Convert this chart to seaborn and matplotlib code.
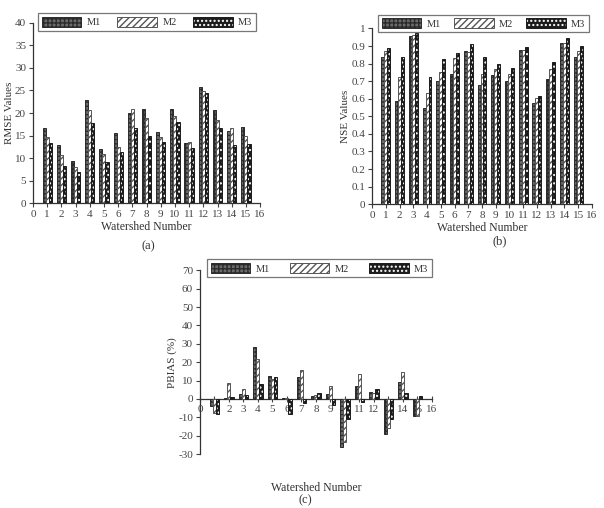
import numpy as np
import pandas as pd
import seaborn as sns
import matplotlib.pyplot as plt
from matplotlib.patches import Patch

watershed = list(range(1, 16))
models = ["M1", "M2", "M3"]

rmse_m1 = [16.6, 13.0, 9.3, 22.8, 12.0, 15.6, 20.0, 21.0, 15.8, 21.0, 13.4, 25.7, 20.6, 16.1, 16.9]
rmse_m2 = [14.7, 10.6, 8.1, 20.7, 10.9, 12.5, 21.0, 18.9, 14.7, 19.4, 13.5, 24.8, 18.4, 16.7, 15.0]
rmse_m3 = [13.3, 8.2, 7.0, 17.7, 9.1, 11.3, 16.7, 15.0, 13.6, 17.9, 12.3, 24.4, 16.7, 13.0, 13.2]

nse_m1 = [0.84, 0.585, 0.955, 0.55, 0.70, 0.74, 0.87, 0.68, 0.735, 0.70, 0.88, 0.575, 0.715, 0.92, 0.84]
nse_m2 = [0.87, 0.725, 0.965, 0.63, 0.755, 0.83, 0.865, 0.74, 0.77, 0.74, 0.875, 0.605, 0.77, 0.915, 0.87]
nse_m3 = [0.89, 0.84, 0.975, 0.725, 0.825, 0.86, 0.91, 0.835, 0.80, 0.775, 0.895, 0.615, 0.81, 0.945, 0.90]

pbias_m1 = [-4.0, 0.5, 2.5, 28.5, 12.5, 0.5, 12.0, 1.5, 2.5, -26.0, 7.0, 4.0, -19.0, 9.5, -9.5]
pbias_m2 = [-7.5, 8.5, 5.5, 22.0, 11.0, 0.5, 15.5, 2.0, 7.0, -23.5, 13.5, 3.0, -16.0, 14.5, -9.0]
pbias_m3 = [-8.0, 1.0, 2.0, 8.0, 12.0, -8.0, -2.0, 3.5, -3.5, -11.0, -1.5, 5.5, -11.0, 3.0, 1.5]


def long_df(m1, m2, m3):
    rows = []
    for name, vals in zip(models, [m1, m2, m3]):
        for w, v in zip(watershed, vals):
            rows.append({"Watershed": w, "Model": name, "Value": v})
    return pd.DataFrame(rows)


sns.set_style("ticks")
plt.rcParams["font.family"] = ["Liberation Serif", "DejaVu Serif"]
plt.rcParams["text.color"] = "#333333"
plt.rcParams["axes.labelcolor"] = "#333333"
plt.rcParams["xtick.color"] = "#444444"
plt.rcParams["ytick.color"] = "#444444"

# bar styles: face, edge/hatch colour, hatch
styles = {
    "M1": dict(face="#6b6b6b", edge="#2b2b2b", hatch="++++", hcol=None),
    "M2": dict(face="white", edge="#555555", hatch="/////", hcol=None),
    "M3": dict(face="#1c1c1c", edge="#1c1c1c", hatch="....", hcol=(1, 1, 1, 1)),
}


def style_patch(p, s):
    p.set_facecolor(s["face"])
    p.set_edgecolor(s["edge"])
    p.set_linewidth(0.7)
    p.set_hatch(s["hatch"])
    if s["hcol"] is not None:
        p._hatch_color = s["hcol"]


def panel(rect, m1, m2, m3, ylim, yticks, ylabel, leg_box, zero_axis=False):
    ax = fig.add_axes(rect)
    df = long_df(m1, m2, m3)
    sns.barplot(data=df, x="Watershed", y="Value", hue="Model", native_scale=True,
                width=0.65, legend=False, ax=ax, zorder=3)
    for cont, name in zip(ax.containers, models):
        for p in cont:
            style_patch(p, styles[name])
    ax.set_xlim(0, 16)
    ax.set_ylim(*ylim)
    ax.set_xticks(range(0, 17))
    ax.set_yticks(yticks)
    ax.set_yticklabels([f"{t:g}" for t in yticks])
    ax.set_ylabel(ylabel, fontsize=8, labelpad=1)
    ax.set_xlabel("Watershed Number", fontsize=8.5, labelpad=1)
    ax.tick_params(labelsize=8, length=3, width=0.8, pad=2)
    for sp in ["top", "right"]:
        ax.spines[sp].set_visible(False)
    for sp in ["left", "bottom"]:
        ax.spines[sp].set_color("#333333")
        ax.spines[sp].set_linewidth(0.9)
    if zero_axis:
        ax.spines["bottom"].set_position(("data", 0))
        ax.tick_params(axis="x", direction="inout", length=5)
        ax.xaxis.set_label_coords(0.5, -0.15)
    handles = []
    for name in models:
        h = Patch(label=name)
        style_patch(h, styles[name])
        handles.append(h)
    leg = ax.legend(handles=handles, ncol=3, loc="lower left", mode="expand",
                    bbox_to_anchor=leg_box, frameon=True, fancybox=False,
                    fontsize=7.5, handlelength=3.8, handleheight=1.1,
                    borderpad=0.35, handletextpad=0.5, borderaxespad=0)
    leg.get_frame().set_edgecolor("#555555")
    leg.get_frame().set_linewidth(0.9)
    leg.set_zorder(5)
    return ax


fig = plt.figure(figsize=(6.04, 5.08), dpi=100)

panel([0.0546, 0.600, 0.376, 0.355], rmse_m1, rmse_m2, rmse_m3,
      (0, 40), list(range(0, 41, 5)), "RMSE Values", (0.022, 0.955, 0.96, 0.1))
panel([0.616, 0.598, 0.364, 0.346], nse_m1, nse_m2, nse_m3,
      (0, 1), [round(0.1 * i, 1) for i in range(11)], "NSE Values", (0.027, 0.977, 0.96, 0.108))
panel([0.331, 0.106, 0.384, 0.362], pbias_m1, pbias_m2, pbias_m3,
      (-30, 70), list(range(-30, 71, 10)), "PBIAS (%)", (0.03, 0.962, 0.97, 0.108),
      zero_axis=True)

fig.text(0.245, 0.515, "(a)", ha="center", va="center", fontsize=9)
fig.text(0.828, 0.526, "(b)", ha="center", va="center", fontsize=9)
fig.text(0.505, 0.016, "(c)", ha="center", va="center", fontsize=9)

fig.savefig("out.png", dpi=100)
